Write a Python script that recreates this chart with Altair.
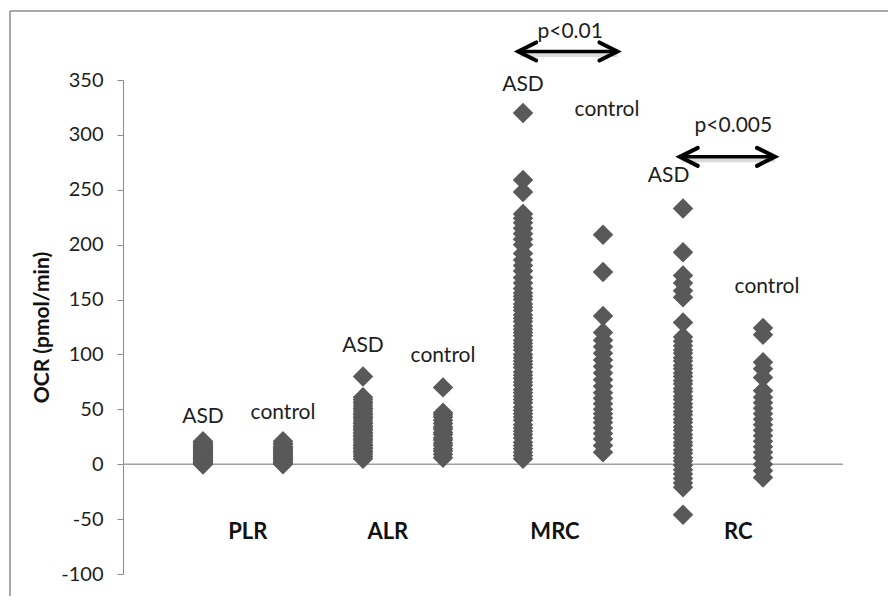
import altair as alt
import pandas as pd

# ---- data ----
positions = {"PLR ASD": 1, "PLR control": 2, "ALR ASD": 3, "ALR control": 4,
             "MRC ASD": 5, "MRC control": 6, "RC ASD": 7, "RC control": 8}

plr_asd = [0, 0, 1, 1, 2, 3, 3, 4, 5, 5, 6, 7, 7, 8, 9, 9, 10, 11, 11, 12, 13, 13,
           14, 15, 15, 16, 17, 18, 19, 20, 21]
plr_ctl = [0, 1, 2, 3, 4, 5, 6, 7, 8, 9, 10, 11, 12, 13, 14, 15, 16, 18, 19, 21]
alr_asd = [5, 7, 9, 11, 12, 14, 15, 17, 18, 20, 22, 23, 25, 26, 28, 29, 31, 32, 34,
           35, 37, 38, 40, 42, 43, 45, 46, 48, 50, 51, 53, 55, 57, 59, 61, 80]
alr_ctl = [6, 9, 12, 14, 17, 19, 22, 24, 27, 29, 32, 34, 37, 40, 43, 45, 47, 70]
mrc_asd = [5, 8, 11, 14, 17, 20, 24, 27, 30, 33, 36, 40, 43, 46, 49, 52, 56, 59, 62,
           65, 68, 72, 75, 78, 81, 84, 88, 91, 94, 97, 100, 104, 107, 110, 113, 117,
           120, 123, 126, 130, 133, 136, 140, 143, 146, 150, 153, 156, 160, 165, 170,
           176, 181, 186, 192, 200, 205, 210, 215, 220, 224, 228, 248, 259, 320]
mrc_ctl = [11, 17, 23, 28, 33, 38, 42, 46, 50, 55, 60, 65, 71, 77, 83, 89, 95, 101,
           107, 113, 120, 135, 175, 209]
rc_asd = [-46, -21, -17, -13, -9, -5, -1, 3, 6, 10, 13, 17, 20, 24, 27, 31, 34, 38,
          41, 45, 48, 52, 55, 59, 62, 66, 69, 73, 76, 80, 83, 87, 90, 94, 97, 101,
          104, 108, 112, 116, 129, 152, 158, 165, 172, 193, 233]
rc_ctl = [-12, -6, 0, 6, 11, 16, 21, 26, 31, 36, 41, 46, 51, 56, 61, 67, 79, 87,
          93, 118, 124]

series = {"PLR ASD": plr_asd, "PLR control": plr_ctl, "ALR ASD": alr_asd,
          "ALR control": alr_ctl, "MRC ASD": mrc_asd, "MRC control": mrc_ctl,
          "RC ASD": rc_asd, "RC control": rc_ctl}

# subgroup labels above columns
sub_text = ["ASD", "control", "ASD", "control", "ASD", "control", "ASD", "control"]
sub_x = [1.0, 2.0, 3.0, 4.0, 5.0, 6.05, 6.82, 8.05]
sub_y = [43, 47, 108, 99, 345, 323, 263, 161]

# group labels
grp_text = ["PLR", "ALR", "MRC", "RC"]
grp_x = [1.56, 3.31, 5.4, 7.69]
grp_y = [-62, -62, -62, -62]

# significance arrows
arr_x1 = [4.94, 6.96]
arr_x2 = [6.18, 8.15]
arr_y = [376, 280]
p_text = ["p<0.01", "p<0.005"]
p_x = [5.59, 7.63]
p_y = [394, 308]

rows = []
for name, vals in series.items():
    for v in vals:
        rows.append({"x": positions[name], "y": v, "series": name})
pts = pd.DataFrame(rows)

sub_df = pd.DataFrame({"t": sub_text, "x": sub_x, "y": sub_y})
grp_df = pd.DataFrame({"t": grp_text, "x": grp_x, "y": grp_y})
arr_df = pd.DataFrame({"x1": arr_x1, "x2": arr_x2, "y": arr_y})
p_df = pd.DataFrame({"t": p_text, "x": p_x, "y": p_y})
zero_df = pd.DataFrame({"x1": [0], "x2": [9], "y": [0]})

W, H = 720, 494
xs = alt.Scale(domain=[0, 9], nice=False, zero=False)
ys = alt.Scale(domain=[-100, 350], nice=False)

FONT = "Lato"
TXT = "#1e1e1e"

yaxis = alt.Axis(values=list(range(-100, 351, 50)), grid=False, domainColor="#8c8c8c",
                 tickColor="#8c8c8c", tickSize=6, labelPadding=14, labelFontSize=20,
                 labelFont=FONT, labelColor=TXT, labelExpr="datum.value + ''",
                 title="OCR (pmol/min)",
                 titleFont=FONT, titleFontSize=21, titleFontWeight="bold",
                 titleColor="#111111", titleX=-81, titleY=H / 2, titleBaseline="middle",
                 titleAngle=-90, titleAlign="center")

zero = alt.Chart(zero_df).mark_rule(color="#a0a0a0", strokeWidth=1.5).encode(
    x=alt.X("x1:Q", scale=xs, axis=None), x2="x2:Q",
    y=alt.Y("y:Q", scale=ys, axis=yaxis))

points = alt.Chart(pts).mark_point(shape="diamond", filled=True, size=420,
                                   color="#595959", opacity=1).encode(
    x=alt.X("x:Q", scale=xs, axis=None), y=alt.Y("y:Q", scale=ys))

sub = alt.Chart(sub_df).mark_text(font=FONT, fontSize=21, color=TXT,
                                  baseline="middle").encode(
    x=alt.X("x:Q", scale=xs), y=alt.Y("y:Q", scale=ys), text="t:N")

grp = alt.Chart(grp_df).mark_text(font=FONT, fontSize=22, fontWeight="bold",
                                  color="#111111", baseline="middle").encode(
    x=alt.X("x:Q", scale=xs), y=alt.Y("y:Q", scale=ys), text="t:N")

shadow_shaft = alt.Chart(arr_df).mark_rule(color="#9a9a9a", strokeWidth=5, opacity=0.35,
                                           xOffset=2, yOffset=3).encode(
    x=alt.X("x1:Q", scale=xs), x2="x2:Q", y=alt.Y("y:Q", scale=ys))

shaft = alt.Chart(arr_df).mark_rule(color="black", strokeWidth=3.5).encode(
    x=alt.X("x1:Q", scale=xs), x2="x2:Q", y=alt.Y("y:Q", scale=ys))

head_l = alt.Chart(arr_df).mark_point(shape="M2,-1L0,0L2,1", size=324, filled=False,
                                      color="black", strokeWidth=4, opacity=1,
                                      strokeCap="round", strokeJoin="miter").encode(
    x=alt.X("x1:Q", scale=xs), y=alt.Y("y:Q", scale=ys))

head_r = alt.Chart(arr_df).mark_point(shape="M-2,-1L0,0L-2,1", size=324, filled=False,
                                      color="black", strokeWidth=4, opacity=1,
                                      strokeCap="round", strokeJoin="miter").encode(
    x=alt.X("x2:Q", scale=xs), y=alt.Y("y:Q", scale=ys))

ptxt = alt.Chart(p_df).mark_text(font=FONT, fontSize=21, color=TXT,
                                 baseline="middle").encode(
    x=alt.X("x:Q", scale=xs), y=alt.Y("y:Q", scale=ys), text="t:N")

# outer frame (left and top edges, as in the cropped reference)
frame_top = alt.Chart(zero_df).mark_rule(color="#8c8c8c", strokeWidth=1.5).encode(
    x=alt.value(-113), x2=alt.value(790), y=alt.value(-69))
frame_left = alt.Chart(zero_df).mark_rule(color="#8c8c8c", strokeWidth=1.5).encode(
    x=alt.value(-113), y=alt.value(-69), y2=alt.value(H + 30))

chart = alt.layer(frame_top, frame_left, zero, points, sub, grp, shadow_shaft, shaft,
                  head_l, head_r, ptxt).properties(
    width=W, height=H,
    autosize=alt.AutoSizeParams(type="none"),
    padding={"left": 115, "top": 72, "right": 45, "bottom": 22},
    background="white",
).configure_view(strokeWidth=0)

chart.save("out.html", embed_options={"renderer": "svg", "actions": False})
